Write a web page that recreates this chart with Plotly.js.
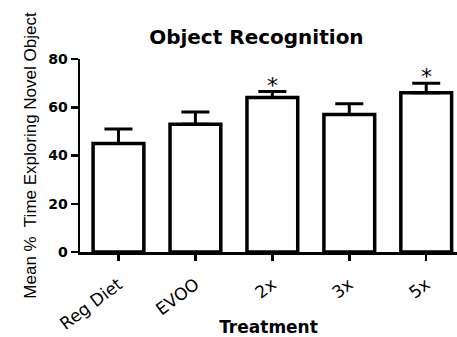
<!DOCTYPE html>
<html>
<head>
<meta charset="utf-8">
<script src="https://cdn.plot.ly/plotly-3.0.1.min.js"></script>
<style>html,body{margin:0;padding:0;background:#fff;}#chart{width:457px;height:337px;}</style>
</head>
<body>
<div id="chart"></div>
<script>
const categories = ["Reg Diet", "EVOO", "2x", "3x", "5x"];
const means = [45, 53, 64, 57, 66];
const sems = [6, 5, 2.5, 4.5, 4];
const significant = [false, false, true, false, true];

const FONT = "Liberation Sans, Arial, sans-serif";
const WIDE = "DejaVu Sans, Liberation Sans, sans-serif";

const trace = {
  type: "bar",
  x: categories,
  y: means,
  width: 0.66,
  marker: {color: "#ffffff", line: {color: "#000000", width: 3.5}},
  error_y: {type: "data", symmetric: false, array: sems, arrayminus: sems.map(() => 0),
            color: "#000000", thickness: 3, width: 14},
  hoverinfo: "none"
};

const annotations = categories.map((c, i) => significant[i] ? {
  x: c, y: means[i] + sems[i], xref: "x", yref: "y",
  text: "*", showarrow: false, yanchor: "bottom", yshift: -8,
  font: {family: WIDE, size: 22, color: "#000"}
} : null).filter(a => a);

const layout = {
  width: 457, height: 337,
  margin: {l: 80, r: 0, t: 59, b: 85},
  paper_bgcolor: "#fff", plot_bgcolor: "#fff",
  showlegend: false,
  title: {text: "<b>Object Recognition</b>", x: 0.561, xanchor: "center", y: 0.89, yanchor: "middle",
          font: {family: WIDE, size: 20, color: "#000"}},
  xaxis: {
    type: "category", range: [-0.5, 4.4], automargin: false,
    showline: true, linecolor: "#000", linewidth: 3,
    ticks: "outside", ticklen: 6, tickwidth: 2.5, tickcolor: "#000",
    tickangle: -37, ticklabelstandoff: 7, tickfont: {family: WIDE, size: 17, color: "#000"},
    showgrid: false, zeroline: false,
    title: {text: "<b>Treatment</b>", font: {family: WIDE, size: 17, color: "#000"}, standoff: 4}
  },
  yaxis: {
    range: [0, 80], tickvals: [0, 20, 40, 60, 80], automargin: false,
    showline: true, linecolor: "#000", linewidth: 2.5,
    ticks: "outside", ticklen: 7, tickwidth: 2.5, tickcolor: "#000",
    tickfont: {family: WIDE, size: 14, color: "#000", weight: "bold"},
    showgrid: false, zeroline: false,
    title: {text: "Mean %  Time Exploring Novel Object", font: {family: FONT, size: 17, color: "#000"}, standoff: 8}
  },
  annotations: annotations
};

Plotly.newPlot("chart", [trace], layout, {staticPlot: true, displayModeBar: false});
</script>
</body>
</html>
